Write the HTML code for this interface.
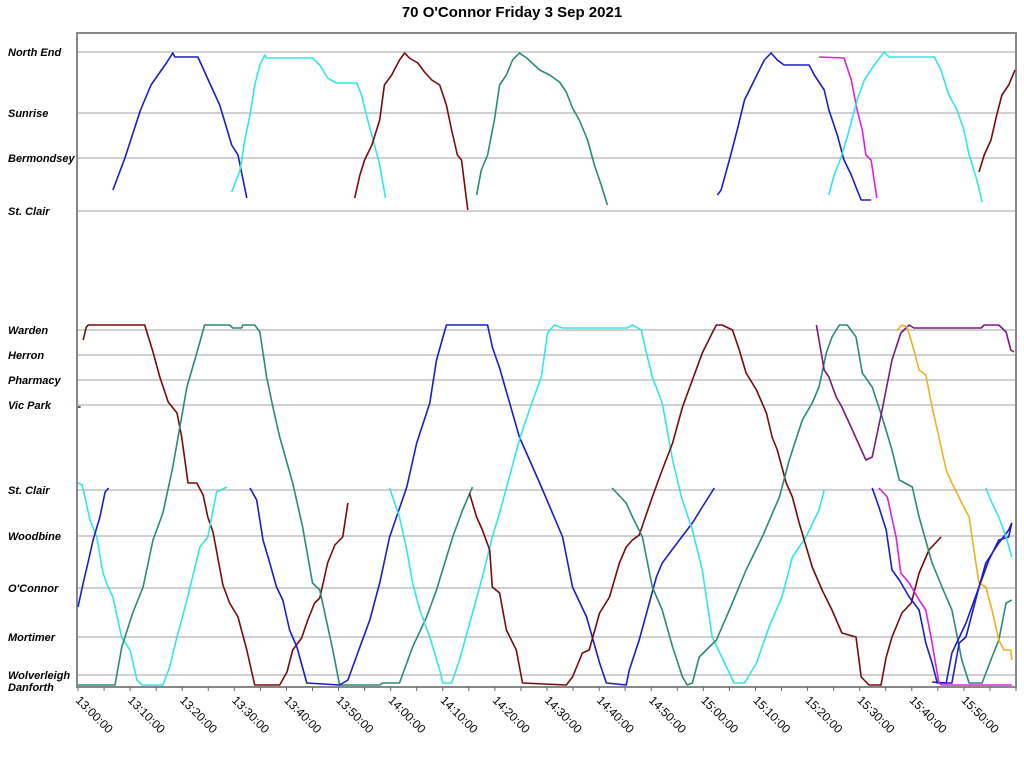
<!DOCTYPE html>
<html><head><meta charset="utf-8"><title>70 O'Connor Friday 3 Sep 2021</title>
<style>
body{margin:0;background:#fff;width:1024px;height:757px;overflow:hidden;font-family:"Liberation Sans",sans-serif;}
svg text{font-family:"Liberation Sans",sans-serif;}
</style></head><body>
<svg id="chart" width="1024" height="757" xmlns="http://www.w3.org/2000/svg">
<text x="512" y="17" text-anchor="middle" font-size="15" font-weight="bold">70 O'Connor Friday 3 Sep 2021</text>
</svg>
<script>
// ---- data ----
const stationNames = ["North End","Sunrise","Bermondsey","St. Clair","Warden","Herron","Pharmacy","Vic Park","St. Clair","Woodbine","O'Connor","Mortimer","Wolverleigh","Danforth"];
const stationPos = [635,574,529,476,357,332,307,282,197,151,99,50,12,0];
const tickLabels = ["13:00:00","13:10:00","13:20:00","13:30:00","13:40:00","13:50:00","14:00:00","14:10:00","14:20:00","14:30:00","14:40:00","14:50:00","15:00:00","15:10:00","15:20:00","15:30:00","15:40:00","15:50:00"];
const tickMinutes = [0,10,20,30,40,50,60,70,80,90,100,110,120,130,140,150,160,170];
const tripColors = ["#1c1cc8","#33e6e6","#7a0a0a","#2a8a7a","#1c1cc8","#e020e0","#33e6e6","#7a0a0a",
 "#7a0a0a","#7a0a0a","#33e6e6","#1c1cc8","#2a8a7a","#1c1cc8","#33e6e6","#7a0a0a","#2a8a7a","#7a1a7a","#f0b020","#1c1cc8","#1c1cc8","#e020e0","#33e6e6"];
const trips = [
 [[6.7,497],[9,529],[12,577],[14,602],[17.1,625],[18.2,634],[18.6,630],[23,630],[25,607],[27.2,582],[29.5,542],[30.7,532],[32.4,489]],
 [[29.5,495],[31.1,517],[32,547],[33,572],[33.9,602],[34.9,622],[35.8,632],[36.2,629],[45,629],[46.4,622],[47.9,609],[49.6,604],[53.5,604],[54.4,592],[55.6,567],[56.9,542],[57.9,522],[59,489]],
 [[53.1,489],[54.1,512],[55,527],[56.4,542],[57.9,567],[58.8,602],[60.2,612],[61.7,627],[62.7,634],[63.6,629],[65.2,624],[66.5,615],[67.9,607],[69.4,602],[70.7,582],[71.7,557],[72.8,532],[73.6,527],[74.8,477]],
 [[76.5,492],[77.4,517],[78.6,532],[79.9,567],[80.9,602],[82.2,612],[83.4,627],[84.7,634],[86.1,629],[88.6,617],[90.5,612],[92.4,605],[93.7,595],[94.9,579],[96.2,567],[97.8,547],[99.1,522],[100.4,502],[101.6,482]],
 [[122.7,492],[123.4,497],[125,527],[126.5,557],[127.9,587],[129.8,607],[131.7,627],[133,634],[134.2,627],[135.5,622],[140.3,622],[141.3,612],[143.2,597],[144.1,577],[145.7,552],[147,527],[148.4,512],[149.5,497],[150.3,487],[152.2,487]],
 [[142.2,630],[147,629],[148.4,607],[149.5,577],[150.5,557],[151.2,532],[152.2,527],[153.3,489]],
 [[144.1,492],[145.1,512],[146.4,529],[148,557],[149.5,587],[150.9,607],[152.8,622],[154.7,635],[155.6,630],[164.3,630],[165.6,617],[167.1,592],[168.7,577],[170,557],[171,532],[172.5,507],[173.5,485]],
 [[172.9,515],[173.9,532],[175.2,547],[176.3,572],[177.3,592],[178.6,602],[179.8,617]],
 [[0,280],[0.5,280]],
 [[1,347],[1.6,360],[2,362],[12.8,362],[14.4,335],[15.7,310],[17.3,285],[19,274],[19.9,250],[21.1,204],[22.8,204],[24,192],[24.9,170],[25.9,155],[27.8,102],[29.1,84],[30.7,70],[32.4,37],[33.9,2],[38.7,2],[40.1,15],[41.2,37],[42.9,49],[44.1,67],[45.4,84],[46.4,89],[47.9,124],[49.3,142],[50.8,150],[51.8,184]],
 [[0,204],[0.8,202],[2.3,167],[3.6,150],[4.8,114],[5.6,102],[6.7,90],[8.4,49],[10,37],[11.3,7],[12.3,2],[16.3,2],[17.6,20],[19,50],[20.9,87],[23.4,140],[24.9,150],[26.6,195],[28.6,200]],
 [[0,80],[1,104],[1.9,124],[2.9,147],[4.2,170],[5.2,195],[5.9,199]],
 [[0,2],[7.1,2],[8.4,40],[10.5,74],[12.5,100],[14.4,147],[16.3,174],[18.2,220],[20.9,300],[22.8,334],[24.3,362],[29.1,362],[29.7,359],[31.4,359],[31.6,362],[33.9,362],[34.9,355],[36.2,310],[37.4,280],[38.7,250],[41.2,204],[43.1,160],[45,104],[46.4,97],[48.9,37],[50.2,2],[57.9,2],[58.5,4],[61.7,4],[64.2,40],[66.9,70],[68.8,97],[71.9,150],[73.8,177],[75.7,200]],
 [[33,199],[34.3,187],[35.5,147],[36.8,124],[38.1,100],[39.3,87],[40.6,57],[42,40],[43.9,4],[50.2,2],[51.8,7],[54.1,40],[56,67],[57.9,104],[59.8,150],[63.1,200],[65,244],[67.5,284],[68.8,327],[70.7,362],[78.6,362],[79.5,340],[80.9,319],[84.7,250],[88.6,204],[93,150],[94.9,100],[97.6,70],[100.1,24],[101.4,4],[105.2,2],[105.8,17],[107.7,47],[111,110],[112.1,124],[115.4,147],[117.9,164],[119.8,180],[122.1,199]],
 [[59.8,199],[61.7,170],[63.1,137],[64.2,104],[65.6,77],[67.5,50],[69.4,17],[70,4],[71.7,4],[73.2,27],[75.7,74],[77.6,110],[79.5,150],[80.9,174],[84.7,247],[86.6,277],[88.9,310],[90.1,354],[91.4,362],[93,359],[105.4,359],[106.4,362],[108.1,357],[109.1,334],[110.2,310],[112.1,284],[114.1,227],[115.8,190],[117.9,157],[119.8,117],[121.7,50],[125.9,4],[127.9,4],[130.2,24],[132.6,60],[135.1,90],[137.1,130],[139.7,150],[142.2,177],[143.2,197]],
 [[75.1,194],[76.5,170],[77.6,157],[79,137],[79.5,100],[80.9,94],[82.2,57],[84.1,37],[85.3,4],[93.7,2],[94.9,10],[96.8,34],[98.1,37],[100.1,74],[102,90],[103.9,124],[105.2,140],[106.4,147],[107.7,152],[110.2,190],[112.1,217],[114.1,244],[116,280],[117.9,307],[119.8,334],[121.7,354],[122.5,362],[123.6,362],[125.6,357],[126.9,337],[128.2,314],[130.2,297],[132.1,274],[133.2,250],[134.2,237],[135.9,204],[137.1,190],[138.4,164],[140.9,120],[142.8,97],[144.7,77],[146.6,54],[149.3,50],[150.3,10],[151.8,2],[154.1,2],[155.1,30],[156.2,50],[158.1,74],[159.9,84],[161.4,114],[163.3,137],[165.6,150]],
 [[102.5,199],[105.2,184],[106.4,170],[108.3,150],[110.2,100],[112.1,77],[114.1,40],[116,10],[116.9,2],[117.9,4],[119.2,30],[122.5,47],[125,77],[128.2,117],[131.3,150],[134.6,190],[136.5,227],[139,267],[140.9,284],[142.2,300],[143.6,334],[144.7,350],[146.1,362],[147.6,362],[149.3,350],[150.5,314],[152.4,300],[154.3,270],[156.2,237],[157.6,207],[160.1,200],[161.4,170],[163.9,124],[165.8,100],[167.7,77],[169.6,27],[171,4],[173.5,4],[175.4,30],[176.7,47],[178.1,84],[179.2,87]],
 [[141.7,362],[143.2,317],[144.1,310],[145.5,290],[146.6,280],[148.6,257],[151.2,227],[152.4,230],[154.3,277],[156.2,327],[157.9,354],[159.5,362],[160.4,359],[173.3,359],[173.9,362],[176.7,362],[178.1,355],[179,337],[179.6,335]],
 [[157.2,357],[158.1,362],[159.1,360],[160.4,337],[161.4,317],[162.7,312],[163.9,280],[165.2,250],[166.6,217],[167.7,204],[169.6,184],[171,170],[172.3,124],[172.9,104],[174.2,100],[175.4,77],[176.7,47],[177.7,37],[179,37],[179.2,27]],
 [[152.4,199],[153.7,180],[155.1,157],[156.2,117],[157.6,107],[159.5,90],[161.4,77],[162.7,44],[163.9,24],[164.9,4],[167.7,4],[169.1,44],[170.4,50],[172.9,100],[174.8,127],[176.7,147],[178.6,150],[179.2,164]],
 [[163.9,5],[166.6,4],[167.7,34],[170.4,64],[172.9,100],[174.2,124],[176.7,144],[178.6,157],[179.2,164]],
 [[153.7,199],[155.3,190],[157,150],[157.9,114],[159.5,104],[161.4,87],[162.7,77],[163.9,44],[165.2,4],[165.8,2],[179.2,2]],
 [[174.2,199],[175.4,184],[176.7,170],[178.1,150],[179.2,130]]
];
// ---- axes ----
const X0=78, X1=1016, Y0=687, TOP=33, TMAX=180;
function xScale(t){return X0 + t*(X1-X0)/TMAX;}
function yScale(p){return Y0 - p;}
const svg=document.getElementById('chart');
const NS="http://www.w3.org/2000/svg";
function mk(tag,attrs){const e=document.createElementNS(NS,tag);for(const k in attrs)e.setAttribute(k,attrs[k]);svg.appendChild(e);return e;}
// grid + labels
stationNames.forEach((n,i)=>{
  const y=yScale(stationPos[i]);
  const g=mk('line',{x1:X0,x2:X1,y1:y,y2:y,stroke:'#a0a0a0','stroke-width':1});
  
  
  const t=mk('text',{x:8,y:y+(i===13?4:4),'font-size':11,'font-weight':'bold','font-style':'italic'});
  t.textContent=n;
  
  
});
// frame
const fr=mk('rect',{x:X0-1,y:TOP,width:X1-X0+1,height:Y0-TOP,fill:'none',stroke:'#888','stroke-width':2});


// ticks
for(let m=0;m<=TMAX;m+=5){
  const x=xScale(m);
  const tk=mk('line',{x1:x,x2:x,y1:Y0,y2:Y0+4,stroke:'#666','stroke-width':1});
  
  
}
tickLabels.forEach((lab,i)=>{
  const x=xScale(tickMinutes[i]);
  const t=mk('text',{x:x-3,y:Y0+14,'font-size':12,transform:`rotate(45 ${x-3} ${Y0+14})`});
  t.textContent=lab;
  
  
});
// trips
trips.forEach((tr,i)=>{
  const pts=tr.map(d=>xScale(d[0]).toFixed(1)+','+yScale(d[1]).toFixed(1)).join(' ');
  const pl=mk('polyline',{points:pts,fill:'none',stroke:tripColors[i],'stroke-width':1.6,'stroke-linejoin':'round'});
  
  
});
</script>
</body></html>
